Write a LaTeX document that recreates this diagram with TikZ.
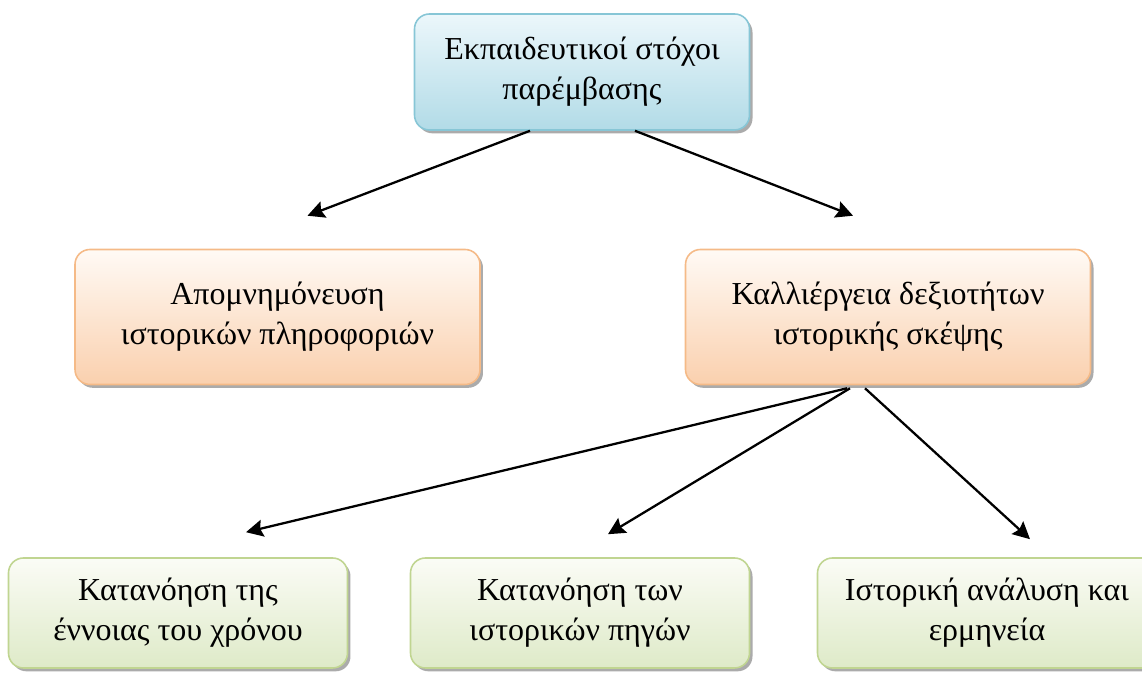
\documentclass[tikz,border=0pt]{standalone}
\usepackage{fontspec}
\setmainfont{Liberation Serif}
\usepackage{tikz}
\usetikzlibrary{positioning,arrows.meta,shadows}
\definecolor{goalline}{RGB}{135,198,214}
\definecolor{goaltop}{RGB}{236,247,251}
\definecolor{goalbot}{RGB}{178,219,231}
\definecolor{orgline}{RGB}{245,186,135}
\definecolor{orgtop}{RGB}{255,250,245}
\definecolor{orgbot}{RGB}{250,208,174}
\definecolor{grnline}{RGB}{192,213,145}
\definecolor{grntop}{RGB}{251,252,246}
\definecolor{grnbot}{RGB}{222,234,200}

\begin{document}
\begin{tikzpicture}[
  every node/.style={font=\fontsize{18.2}{22.7}\selectfont},
  box/.style={rectangle,rounded corners=8.5pt,draw,align=center,line width=0.9pt,
    drop shadow={shadow xshift=1.7pt,shadow yshift=-1.9pt,fill=black!55,opacity=0.6}},
  goalbox/.style={box,draw=goalline,top color=goaltop,bottom color=goalbot,minimum width=6.7cm,minimum height=2.32cm},
  orgbox/.style={box,draw=orgline,top color=orgtop,bottom color=orgbot,minimum width=8.1cm,minimum height=2.7cm},
  grnbox/.style={box,draw=grnline,top color=grntop,bottom color=grnbot,minimum width=6.78cm,minimum height=2.2cm},
  arr/.style={-{Stealth[length=3.4mm,width=3.4mm,inset=0.5mm]},line width=1.3pt,draw=black}
]
\useasboundingbox (0,0) rectangle (22.84,13.46);

\node[goalbox] (goals) at (11.64,12.02) {Εκπαιδευτικοί στόχοι\\παρέμβασης};

\node[orgbox] (memo) at (5.55,7.12) {Απομνημόνευση\\ιστορικών πληροφοριών};
\node[orgbox] (skills) at (17.76,7.12) {Καλλιέργεια δεξιοτήτων\\ιστορικής σκέψης};

\node[grnbox] (time) at (3.56,1.2) {Κατανόηση της\\έννοιας του χρόνου};
\node[grnbox] (sources) at (11.6,1.2) {Κατανόηση των\\ιστορικών πηγών};
\node[grnbox] (analysis) at (19.74,1.2) {Ιστορική ανάλυση και\\ερμηνεία};

% arrows
\draw[arr] ([xshift=-1.04cm]goals.south) -- ([xshift=0.6cm,yshift=0.66cm]memo.north);
\draw[arr] ([xshift=1.06cm]goals.south) -- ([xshift=-0.7cm,yshift=0.66cm]skills.north);
\draw[arr] ([xshift=-0.82cm,yshift=-0.06cm]skills.south) -- ([xshift=1.36cm,yshift=0.5cm]time.north);
\draw[arr] ([xshift=-0.76cm,yshift=-0.06cm]skills.south) -- ([xshift=0.56cm,yshift=0.46cm]sources.north);
\draw[arr] ([xshift=-0.46cm,yshift=-0.06cm]skills.south) -- ([xshift=0.86cm,yshift=0.36cm]analysis.north);
\end{tikzpicture}
\end{document}
